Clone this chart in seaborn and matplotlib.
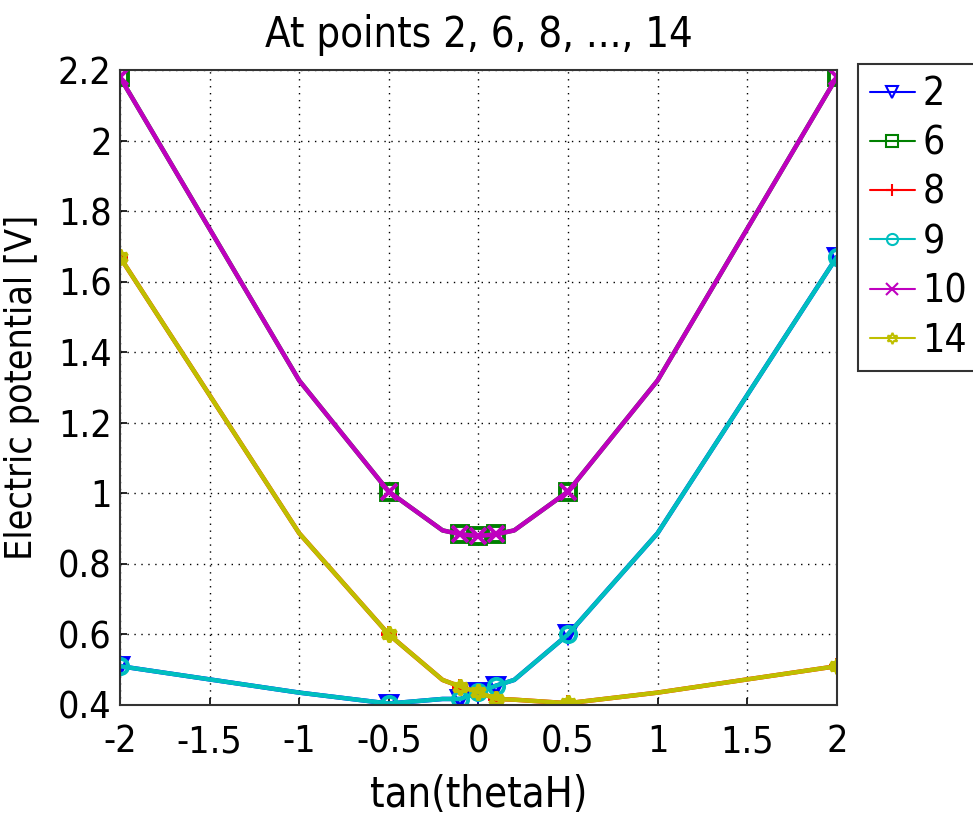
import numpy as np
import pandas as pd
import seaborn as sns
import matplotlib.pyplot as plt
from matplotlib.lines import Line2D

# %% Data
tan_theta = [-2, -1, -0.5, -0.2, -0.1, 0, 0.1, 0.2, 0.5, 1, 2]
marker_idx = [0, 2, 4, 5, 6, 8, 10]

v_upper = [2.18, 1.32, 1.005, 0.895, 0.884, 0.879, 0.884, 0.895, 1.005, 1.32, 2.18]
v_left = [1.67, 0.887, 0.60, 0.471, 0.452, 0.436, 0.417, 0.415, 0.405, 0.435, 0.51]
v_right = [0.51, 0.435, 0.404, 0.417, 0.417, 0.436, 0.455, 0.471, 0.60, 0.887, 1.67]

point_labels = ['2', '6', '8', '9', '10', '14']
point_values = [v_right, v_upper, v_left, v_right, v_upper, v_left]
point_colors = ['#0000ff', '#008000', '#ff0000', '#00bfbf', '#bf00bf', '#bfbf00']
point_markers = ['v', 's', '+', 'o', 'x', (6, 1, 0)]

df = pd.concat([
    pd.DataFrame({'x': tan_theta, 'y': vals, 'point': lab})
    for lab, vals in zip(point_labels, point_values)
])

# %% Plot
sns.set_style('white')
plt.rcParams['font.family'] = ['DejaVu Sans']
plt.rcParams['font.stretch'] = 'condensed'
plt.rcParams['text.color'] = 'black'
plt.rcParams['xtick.color'] = 'black'
plt.rcParams['ytick.color'] = 'black'
plt.rcParams['axes.labelcolor'] = 'black'

fs = 27

fig = plt.figure(figsize=(9.73, 8.25), dpi=100)
ax = fig.add_axes([0.1233, 0.1455, 0.7367, 0.7695])

for lab, col, mk in zip(point_labels, point_colors, point_markers):
    sns.lineplot(
        data=df[df['point'] == lab], x='x', y='y',
        color=col, linewidth=3.2, marker=mk, markersize=11,
        markeredgewidth=2.8, markerfacecolor='none', markeredgecolor=col,
        markevery=marker_idx, sort=False, ax=ax, legend=False,
    )

ax.set_xlim(-2, 2)
ax.set_ylim(0.4, 2.2)
ax.set_xticks(np.arange(-2, 2.01, 0.5))
ax.set_xticklabels(['-2', '-1.5', '-1', '-0.5', '0', '0.5', '1', '1.5', '2'])
ax.set_yticks(np.arange(0.4, 2.21, 0.2))
ax.set_yticklabels(['0.4', '0.6', '0.8', '1', '1.2', '1.4', '1.6', '1.8', '2', '2.2'])
ax.tick_params(labelsize=fs, direction='in', length=5, width=1.2, color='black',
               bottom=True, left=True)
ax.tick_params(axis='x', pad=14)
ax.tick_params(axis='y', pad=6)
ax.grid(True, color='black', linestyle=(0, (1, 4)), linewidth=1.0)
for s in ax.spines.values():
    s.set_color('#333333')
    s.set_linewidth(1.5)

ax.set_xlabel('tan(thetaH)', fontsize=30, labelpad=10)
ax.set_ylabel('Electric potential [V]', fontsize=fs, labelpad=13)
ax.set_title('At points 2, 6, 8, ..., 14', fontsize=30, pad=17)

handles = [
    Line2D([], [], color=c, marker=m, markersize=8, markeredgewidth=1.5,
           markerfacecolor='none', linewidth=1.5)
    for c, m in zip(point_colors, point_markers)
]
leg = fig.legend(
    handles, point_labels, loc='upper left', bbox_to_anchor=(0.882, 0.923),
    fontsize=fs + 1, frameon=True, fancybox=False, handlelength=1.15,
    handletextpad=0.2, labelspacing=0.29, borderpad=0.3, borderaxespad=0,
)
leg.get_frame().set_edgecolor('black')
leg.get_frame().set_linewidth(1.5)

plt.savefig('out.png', dpi=100)
